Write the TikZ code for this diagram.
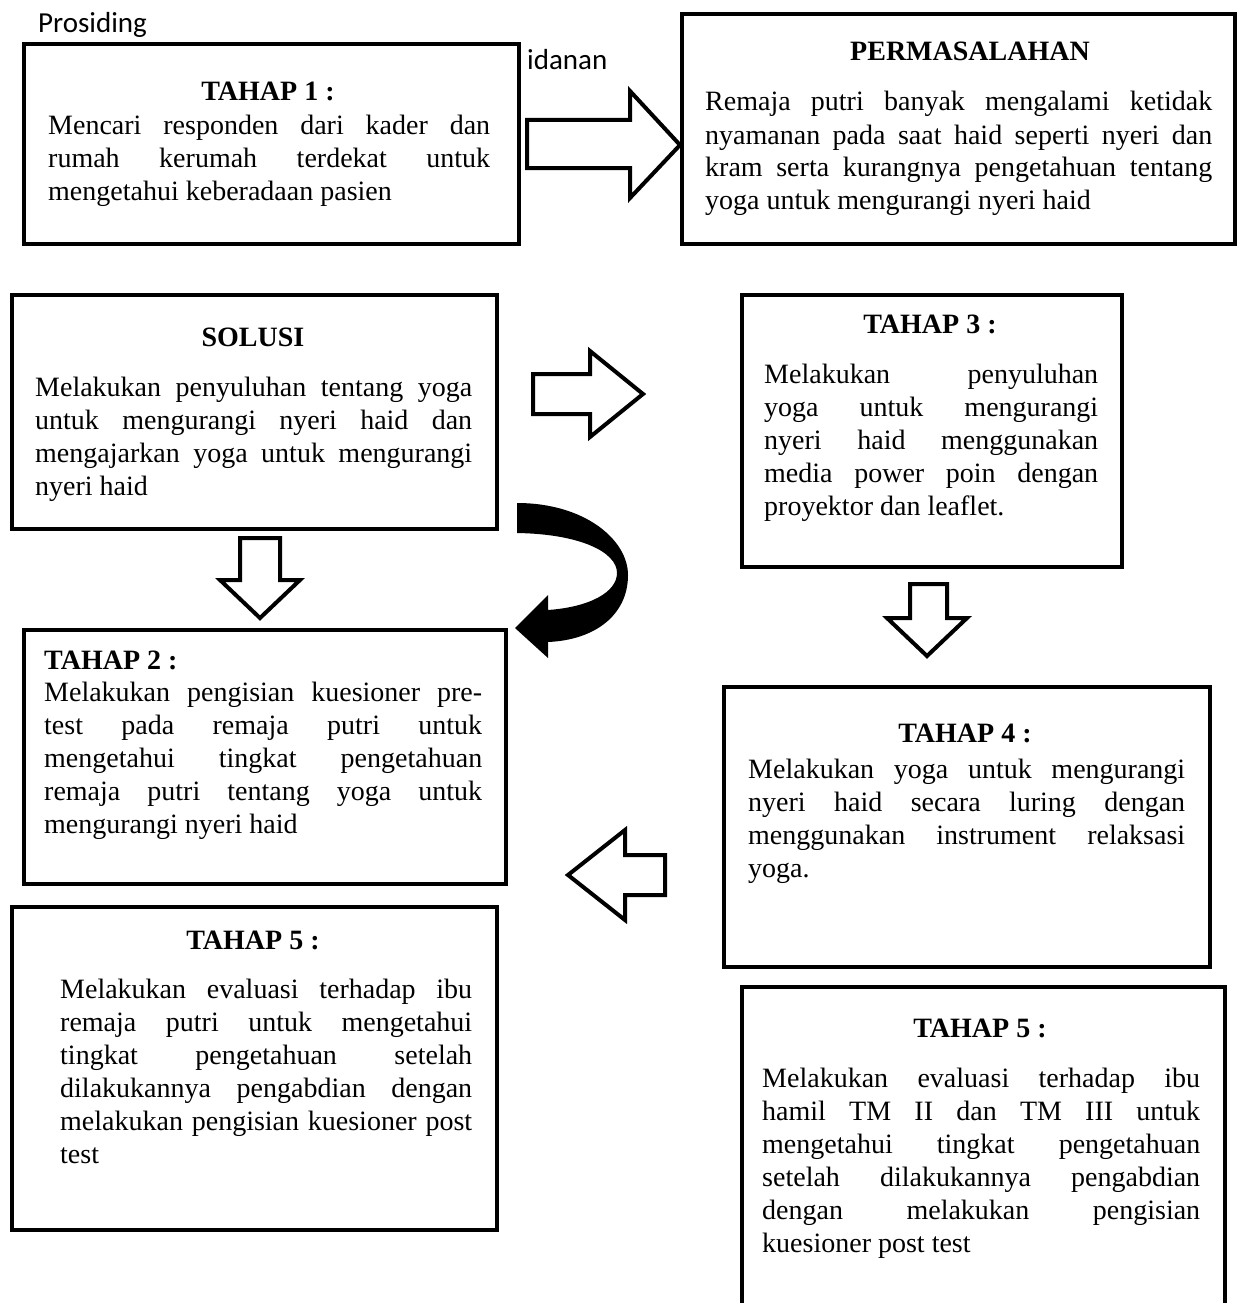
\documentclass[tikz,border=0pt]{standalone}
\usepackage{fontspec}
\setmainfont{Liberation Serif}
\newfontfamily\hdrfont{Carlito}
\newcommand{\JL}[1]{\makebox[\linewidth][s]{#1}\\}
\newcommand{\TB}[2]{\parbox[t]{#1}{\fontsize{28pt}{33pt}\selectfont #2}}
\begin{document}
\begin{tikzpicture}[x=1pt,y=-1pt,
  box/.style={draw,line width=4pt,inner sep=0pt,anchor=north west},
  txt/.style={anchor=base west,inner sep=0pt,font=\fontsize{28pt}{33pt}\selectfont},
  head/.style={anchor=base,inner sep=0pt,font=\fontsize{28pt}{33pt}\selectfont\bfseries},
  hollow/.style={draw,line width=4pt,fill=white,line join=miter},
  hdr/.style={anchor=base west,inner sep=0pt,font=\hdrfont\fontsize{29pt}{32pt}\selectfont}]
\useasboundingbox (0,0) rectangle (1241,1303);
\fill[white] (0,0) rectangle (1241,1303);

% header fragments
\node[hdr] (pros) at (38,33) {Prosiding};
\node[hdr] (keb) at (527,70) {idanan};

% boxes
\node[box,minimum width=495pt,minimum height=200pt] (b1) at (22,42) {};
\node[box,minimum width=553pt,minimum height=230pt] (bp) at (680,12) {};
\node[box,minimum width=485pt,minimum height=234pt] (bs) at (10,293) {};
\node[box,minimum width=380pt,minimum height=272pt] (b3) at (740,293) {};
\node[box,minimum width=482pt,minimum height=254pt] (b2) at (22,628) {};
\node[box,minimum width=486pt,minimum height=280pt] (b4) at (722,685) {};
\node[box,minimum width=485pt,minimum height=323pt] (b5l) at (10,905) {};
\node[box,minimum width=483pt,minimum height=340pt] (b5r) at (740,985) {};

% texts
\node[head] (h1) at (268,101) {TAHAP 1 :};
\node[txt] (t1) at (48,135) {\TB{442pt}{\JL{Mencari responden dari kader dan}\JL{rumah kerumah terdekat untuk}mengetahui keberadaan pasien}};

\node[head] (hp) at (970,61) {PERMASALAHAN};
\node[txt] (tp) at (705,111) {\TB{507pt}{\JL{Remaja putri banyak mengalami ketidak}\JL{nyamanan pada saat haid seperti nyeri dan}\JL{kram serta kurangnya pengetahuan tentang}yoga untuk mengurangi nyeri haid}};

\node[head] (hs) at (253,346) {SOLUSI};
\node[txt] (ts) at (35,396) {\TB{437pt}{\JL{Melakukan penyuluhan tentang yoga}\JL{untuk mengurangi nyeri haid dan}\JL{mengajarkan yoga untuk mengurangi}nyeri haid}};

\node[head] (h3) at (930,333) {TAHAP 3 :};
\node[txt] (t3) at (764,383) {\TB{334pt}{\JL{Melakukan penyuluhan}\JL{yoga untuk mengurangi}\JL{nyeri haid menggunakan}\JL{media power poin dengan}proyektor dan leaflet.}};

\node[head,anchor=base west] (h2) at (44,669) {TAHAP 2 :};
\node[txt] (t2) at (44,701) {\TB{438pt}{\JL{Melakukan pengisian kuesioner pre-}\JL{test pada remaja putri untuk}\JL{mengetahui tingkat pengetahuan}\JL{remaja putri tentang yoga untuk}mengurangi nyeri haid}};

\node[head] (h4) at (965,742) {TAHAP 4 :};
\node[txt] (t4) at (748,778) {\TB{437pt}{\JL{Melakukan yoga untuk mengurangi}\JL{nyeri haid secara luring dengan}\JL{menggunakan instrument relaksasi}yoga.}};

\node[head] (h5l) at (253,949) {TAHAP 5 :};
\node[txt] (t5l) at (60,998) {\TB{412pt}{\JL{Melakukan evaluasi terhadap ibu}\JL{remaja putri untuk mengetahui}\JL{tingkat pengetahuan setelah}\JL{dilakukannya pengabdian dengan}\JL{melakukan pengisian kuesioner post}test}};

\node[head] (h5r) at (980,1037) {TAHAP 5 :};
\node[txt] (t5r) at (762,1087) {\TB{438pt}{\JL{Melakukan evaluasi terhadap ibu}\JL{hamil TM II dan TM III untuk}\JL{mengetahui tingkat pengetahuan}\JL{setelah dilakukannya pengabdian}\JL{dengan melakukan pengisian}kuesioner post test}};

% block arrows
\draw[hollow] (527,120) -- (630,120) -- (630,91) -- (680,145) -- (630,198) -- (630,168) -- (527,168) -- cycle;
\draw[hollow] (533,374) -- (590,374) -- (590,351) -- (643,394) -- (590,437) -- (590,414) -- (533,414) -- cycle;
\draw[hollow] (240,538) -- (280,538) -- (280,580) -- (300,580) -- (260,618) -- (220,580) -- (240,580) -- cycle;
\draw[hollow] (910,584) -- (947,584) -- (947,618) -- (967,618) -- (927,656) -- (887,618) -- (910,618) -- cycle;
\draw[hollow] (568,875) -- (625,830) -- (625,855) -- (665,855) -- (665,895) -- (625,895) -- (625,920) -- cycle;

% curved black arrow
\fill[black] (517,503) .. controls (585,503) and (628,540) .. (628,575)
  .. controls (628,615) and (595,640) .. (548,642)
  -- (548,658) -- (515,628) -- (548,595) -- (548,610)
  .. controls (590,607) and (617,592) .. (617,573)
  .. controls (617,552) and (580,534) .. (517,533) -- cycle;
\end{tikzpicture}
\end{document}
